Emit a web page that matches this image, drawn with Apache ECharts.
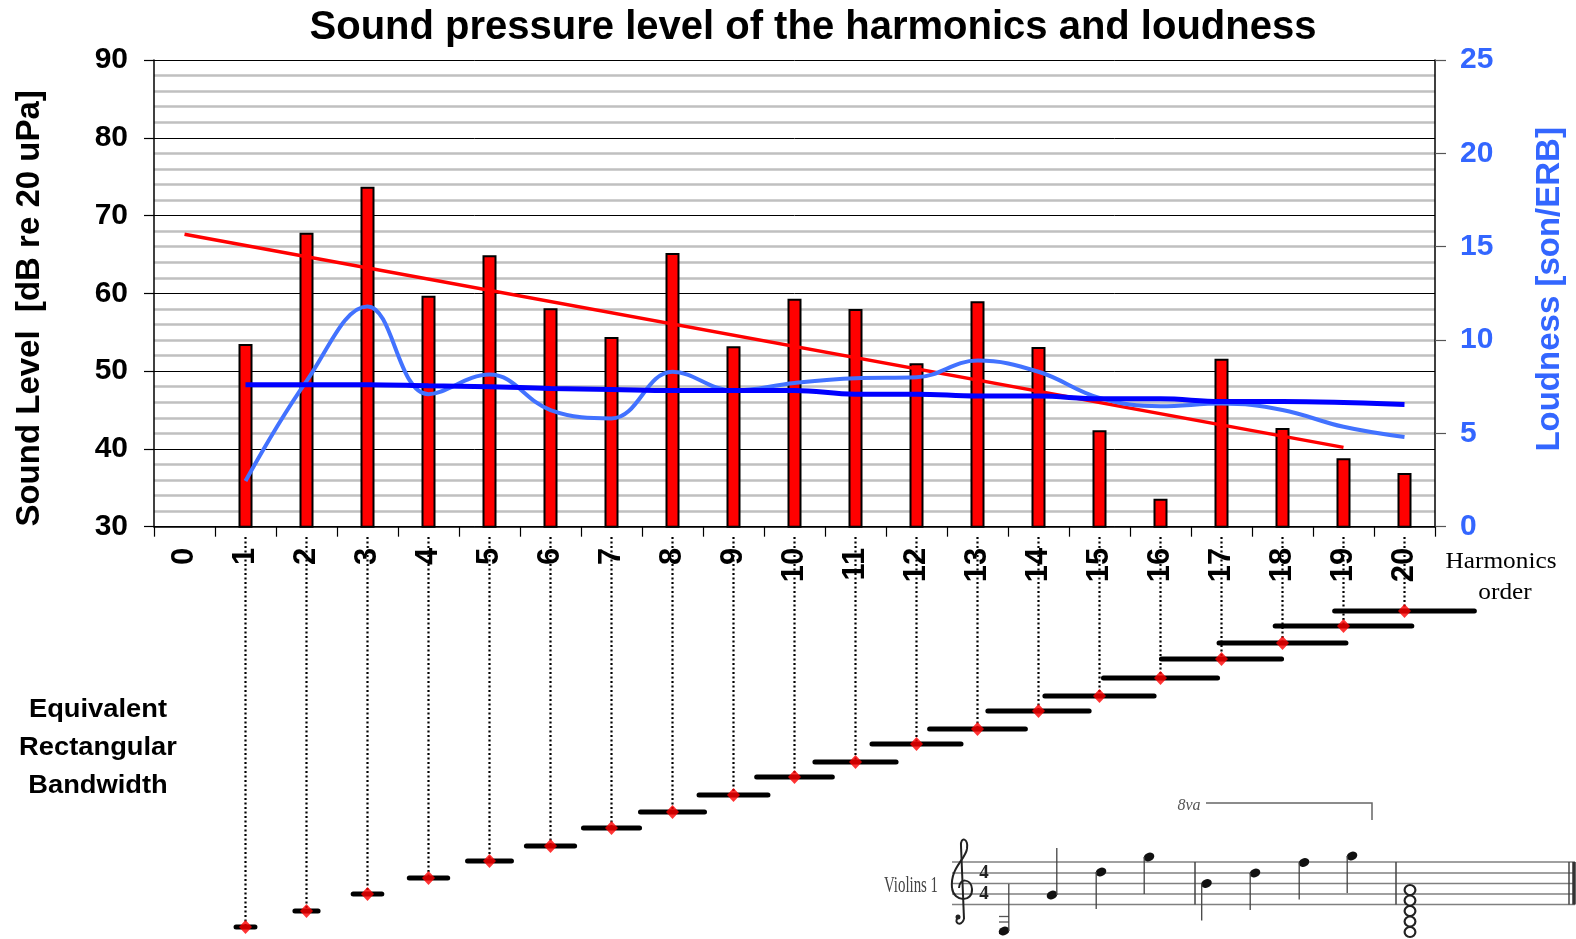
<!DOCTYPE html>
<html>
<head>
<meta charset="utf-8">
<script src="https://cdn.jsdelivr.net/npm/echarts@6/dist/echarts.min.js"></script>
<style>
html,body{margin:0;padding:0;background:#fff;}
#chart{width:1576px;height:939px;}
</style>
</head>
<body>
<div id="chart"></div>
<script>
// ---------- data ----------
const categories = ['0','1','2','3','4','5','6','7','8','9','10','11','12','13','14','15','16','17','18','19','20'];
const soundLevel = [null, 53.5, 67.8, 73.7, 59.7, 64.9, 58.1, 54.4, 65.2, 53.2, 59.3, 58.0, 51.0, 59.0, 53.1, 42.4, 33.6, 51.6, 42.7, 38.8, 36.9];
const trendStart = [0, 67.6];
const trendEnd = [19, 40.2];
const loudness = [null, 2.45, 7.8, 11.8, 7.1, 8.15, 6.25, 5.8, 8.3, 7.3, 7.7, 7.95, 8.0, 8.9, 8.3, 6.9, 6.45, 6.6, 6.25, 5.35, 4.8];
const loudnessMean = [null, 7.6, 7.6, 7.6, 7.55, 7.5, 7.4, 7.35, 7.3, 7.3, 7.3, 7.1, 7.1, 7.0, 7.0, 6.85, 6.85, 6.7, 6.7, 6.65, 6.55];
const harmonics = [1,2,3,4,5,6,7,8,9,10,11,12,13,14,15,16,17,18,19,20];
const erbLevel = [1.2, 2.8, 4.5, 6.1, 7.8, 9.3, 11.1, 12.7, 14.4, 16.2, 17.7, 19.5, 21.0, 22.8, 24.3, 26.1, 28.0, 29.6, 31.3, 32.8];
const erbWidth = [0.31, 0.38, 0.47, 0.63, 0.72, 0.79, 0.92, 1.05, 1.13, 1.24, 1.33, 1.46, 1.57, 1.66, 1.79, 1.87, 1.97, 2.08, 2.24, 2.29];
const erbTop = 40.2;

// ---------- build ----------
const erbData = harmonics.map((h, i) => [h, erbLevel[i], erbWidth[i]]);
const markerData = harmonics.map((h, i) => [h, erbLevel[i]]);

const FONT = 'Liberation Sans, Arial, sans-serif';
const SERIF = 'Liberation Serif, Times New Roman, serif';
const BLUE_TXT = '#3366ff';

function renderErb(params, api) {
  const n = api.value(0), lvl = api.value(1), w = api.value(2);
  const a = api.coord([n - w / 2, lvl]);
  const b = api.coord([n + w / 2, lvl]);
  return {type: 'line', shape: {x1: a[0], y1: a[1], x2: b[0], y2: b[1]},
          style: {stroke: '#000', lineWidth: 5, lineCap: 'round'}};
}
function renderDrop(params, api) {
  const n = api.value(0), lvl = api.value(1);
  const a = api.coord([n, erbTop]);
  const b = api.coord([n, lvl]);
  return {type: 'line', shape: {x1: a[0], y1: a[1], x2: b[0], y2: b[1]},
          style: {stroke: '#000', lineWidth: 2.2, lineDash: [2, 2.5]}};
}

// ---------- music excerpt decoration ----------
const music = [];
const staffY = [862, 873, 883.5, 894, 904.5];
staffY.forEach(y => music.push({type: 'line', shape: {x1: 952, y1: y, x2: 1575, y2: y}, style: {stroke: '#808080', lineWidth: 1.6}}));
[1195, 1396, 1569].forEach(x => music.push({type: 'line', shape: {x1: x, y1: 862, x2: x, y2: 904.5}, style: {stroke: '#444', lineWidth: 1.5}}));
music.push({type: 'line', shape: {x1: 1574, y1: 862, x2: 1574, y2: 904.5}, style: {stroke: '#333', lineWidth: 3.5}});
const clefSegs = [
  [958, 918, 953, 922, 961, 928, 964, 919],
  [961, 846, 960, 836, 969, 838, 967, 849],
  [967, 849, 965, 860, 950, 868, 952, 888],
  [952, 888, 954, 903, 973, 902, 972, 889],
  [972, 889, 971, 878, 959, 878, 959, 888]
];
clefSegs.forEach(s => music.push({type: 'bezierCurve',
  shape: {x1: s[0], y1: s[1], cpx1: s[2], cpy1: s[3], cpx2: s[4], cpy2: s[5], x2: s[6], y2: s[7]},
  style: {stroke: '#222', lineWidth: 2, fill: null}}));
music.push({type: 'line', shape: {x1: 964, y1: 919, x2: 961, y2: 846}, style: {stroke: '#222', lineWidth: 2}});
music.push({type: 'circle', shape: {cx: 958, cy: 917, r: 2.5}, style: {fill: '#222'}});
music.push({type: 'text', x: 984, y: 873, style: {text: '4', font: 'bold 19px ' + SERIF, fill: '#222', textAlign: 'center', textVerticalAlign: 'middle'}});
music.push({type: 'text', x: 984, y: 894, style: {text: '4', font: 'bold 19px ' + SERIF, fill: '#222', textAlign: 'center', textVerticalAlign: 'middle'}});
music.push({type: 'text', x: 911, y: 886, scaleX: 0.62, style: {text: 'Violins 1', font: '24px ' + SERIF, fill: '#444', textAlign: 'center', textVerticalAlign: 'middle'}});
[[999, 916.5], [999, 922]].forEach(p => music.push({type: 'line', shape: {x1: p[0], y1: p[1], x2: p[0] + 10, y2: p[1]}, style: {stroke: '#555', lineWidth: 1.3}}));
const heads = [[1004, 931], [1052, 895], [1101, 872], [1149, 857], [1206.5, 883.5], [1255, 873], [1304, 862.5], [1352, 856]];
heads.forEach((h, i) => {
  music.push({type: 'circle', x: h[0], y: h[1], scaleX: 1.3, rotation: 0.4, shape: {cx: 0, cy: 0, r: 4.2}, style: {fill: '#111'}});
  if (i < 2) {
    music.push({type: 'line', shape: {x1: h[0] + 4.8, y1: h[1], x2: h[0] + 4.8, y2: h[1] - 47}, style: {stroke: '#444', lineWidth: 1.3}});
  } else {
    music.push({type: 'line', shape: {x1: h[0] - 4.8, y1: h[1], x2: h[0] - 4.8, y2: h[1] + 37}, style: {stroke: '#444', lineWidth: 1.3}});
  }
});
[890, 900.5, 911, 921.5, 932].forEach(y => music.push({type: 'circle', x: 1410, y: y, scaleX: 1.08, shape: {cx: 0, cy: 0, r: 5}, style: {fill: '#fff', stroke: '#222', lineWidth: 2}}));
music.push({type: 'text', x: 1189, y: 806, style: {text: '8va', font: 'italic 16px ' + SERIF, fill: '#555', textAlign: 'center', textVerticalAlign: 'middle'}});
music.push({type: 'polyline', shape: {points: [[1206, 803], [1372, 803], [1372, 820]]}, style: {stroke: '#666', lineWidth: 1.5, fill: null}});

const texts = [
  {type: 'text', x: 98, y: 710, scaleX: 1.05, style: {text: 'Equivalent', font: 'bold 26px ' + FONT, fill: '#000', textAlign: 'center', textVerticalAlign: 'middle'}},
  {type: 'text', x: 98, y: 748, scaleX: 1.05, style: {text: 'Rectangular', font: 'bold 26px ' + FONT, fill: '#000', textAlign: 'center', textVerticalAlign: 'middle'}},
  {type: 'text', x: 98, y: 786, scaleX: 1.05, style: {text: 'Bandwidth', font: 'bold 26px ' + FONT, fill: '#000', textAlign: 'center', textVerticalAlign: 'middle'}},
  {type: 'text', x: 1501, y: 562, scaleX: 1.1, style: {text: 'Harmonics', font: '23px ' + SERIF, fill: '#000', textAlign: 'center', textVerticalAlign: 'middle'}},
  {type: 'text', x: 1505, y: 593, scaleX: 1.1, style: {text: 'order', font: '23px ' + SERIF, fill: '#000', textAlign: 'center', textVerticalAlign: 'middle'}}
];

const chart = echarts.init(document.getElementById('chart'), null, {renderer: 'canvas'});
chart.setOption({
  backgroundColor: '#fff',
  animation: false,
  title: {
    text: 'Sound pressure level of the harmonics and loudness',
    left: 808, top: 3, textAlign: 'center',
    textStyle: {fontFamily: FONT, fontSize: 40, fontWeight: 'bold', color: '#000', lineHeight: 40}
  },
  grid: [
    {left: 154, right: 141, top: 60, bottom: 412.3, outerBoundsMode: 'none', containLabel: false},
    {left: 154, right: 141, top: 537, bottom: 0, outerBoundsMode: 'none', containLabel: false}
  ],
  xAxis: [
    {
      type: 'category', gridIndex: 0, data: categories, boundaryGap: true,
      axisLine: {show: true, lineStyle: {color: '#000', width: 1.5}},
      axisTick: {show: true, inside: false, length: 10, alignWithLabel: false, lineStyle: {color: '#000', width: 1.2}},
      axisLabel: {interval: 0, rotate: 90, margin: 21, fontFamily: FONT, fontSize: 31, fontWeight: 'bold', color: '#000'},
      splitLine: {show: false}
    },
    {type: 'value', gridIndex: 1, min: -0.5, max: 20.5, show: false}
  ],
  yAxis: [
    {
      type: 'value', gridIndex: 0, min: 30, max: 90, interval: 10, position: 'left',
      name: 'Sound Level  [dB re 20 uPa]', nameLocation: 'middle', nameRotate: 90, nameGap: 108,
      nameTextStyle: {fontFamily: FONT, fontSize: 33, fontWeight: 'bold', color: '#000', padding: [0, 30, 0, 0]},
      axisLine: {show: true, lineStyle: {color: '#000', width: 1.5}},
      axisTick: {show: true, inside: false, length: 10, lineStyle: {color: '#000', width: 1.2}},
      axisLabel: {margin: 26, fontFamily: FONT, fontSize: 30, fontWeight: 'bold', color: '#000'},
      splitLine: {show: true, lineStyle: {color: '#000', width: 1}},
      minorTick: {show: false, splitNumber: 5},
      minorSplitLine: {show: true, lineStyle: {color: '#c0c0c0', width: 2.5}}
    },
    {
      type: 'value', gridIndex: 0, min: 0, max: 25, interval: 5, position: 'right',
      name: 'Loudness [son/ERB]', nameLocation: 'middle', nameRotate: 90, nameGap: 98,
      nameTextStyle: {fontFamily: FONT, fontSize: 33, fontWeight: 'bold', color: BLUE_TXT, padding: [0, 0, 0, 8]},
      axisLine: {show: true, lineStyle: {color: '#000', width: 1.5}},
      axisTick: {show: true, inside: false, length: 11, lineStyle: {color: '#555', width: 1.2}},
      axisLabel: {margin: 25, fontFamily: FONT, fontSize: 30, fontWeight: 'bold', color: BLUE_TXT},
      splitLine: {show: false}
    },
    {type: 'value', gridIndex: 1, min: 0, max: erbTop, show: false}
  ],
  series: [
    {
      name: 'Sound level', type: 'bar', xAxisIndex: 0, yAxisIndex: 0, data: soundLevel,
      barWidth: 14, itemStyle: {color: '#ff0000', borderColor: '#000', borderWidth: 2}, z: 2
    },
    {
      name: 'Trend', type: 'line', xAxisIndex: 0, yAxisIndex: 0, data: [trendStart, trendEnd],
      symbol: 'none', lineStyle: {color: '#ff0000', width: 3.5}, z: 3
    },
    {
      name: 'Loudness', type: 'line', xAxisIndex: 0, yAxisIndex: 1, data: loudness,
      smooth: 0.4, symbol: 'none', lineStyle: {color: '#4272ff', width: 4}, z: 4
    },
    {
      name: 'Loudness mean', type: 'line', xAxisIndex: 0, yAxisIndex: 1, data: loudnessMean,
      smooth: 0.4, symbol: 'none', lineStyle: {color: '#0000ff', width: 5}, z: 5
    },
    {
      name: 'Drop', type: 'custom', xAxisIndex: 1, yAxisIndex: 2, data: markerData,
      renderItem: renderDrop, z: 2, silent: true
    },
    {
      name: 'ERB', type: 'custom', xAxisIndex: 1, yAxisIndex: 2, data: erbData,
      renderItem: renderErb, z: 3, silent: true
    },
    {
      name: 'Harmonic', type: 'scatter', xAxisIndex: 1, yAxisIndex: 2, data: markerData,
      symbol: 'diamond', symbolSize: [13, 14], itemStyle: {color: '#ff0000'}, z: 4
    }
  ],
  graphic: {elements: texts.concat(music)}
});
</script>
</body>
</html>
